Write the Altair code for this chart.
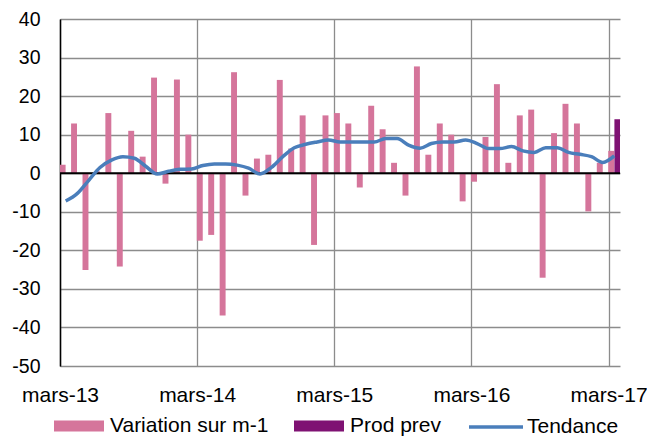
import altair as alt
import pandas as pd

# ---- data ----
month_index = list(range(49))  # 0 = mars-13 ... 48 = mars-17
variation = [2.2, 12.9, -25.1, 0.5, 15.6, -24.2, 11.0, 4.3, 24.8, -2.7, 24.3, 10.0,
             -17.5, -16.0, -36.9, 26.2, -5.8, 3.8, 4.8, 24.2, 6.4, 15.0, -18.6, 15.0,
             15.6, 12.9, -3.7, 17.5, 11.4, 2.7, -5.8, 27.7, 4.8, 12.9, 10.0, -7.3,
             -2.2, 9.4, 23.1, 2.7, 15.0, 16.5, -27.1, 10.4, 18.0, 12.9, -9.9, 2.7,
             5.8]
tendance = [-7.2, -5.3, -1.9, 1.5, 3.4, 4.3, 3.9, 1.8, -0.2, 0.5, 1.0, 1.1,
            2.0, 2.4, 2.4, 2.1, 1.3, -0.2, 1.5, 4.3, 6.6, 7.5, 8.1, 8.6,
            8.1, 8.1, 8.1, 8.1, 9.0, 9.0, 7.3, 6.5, 7.7, 8.1, 8.1, 8.6,
            7.7, 6.4, 6.4, 6.9, 5.8, 5.4, 6.6, 6.6, 5.4, 4.9, 4.3, 2.8, 4.5]
prod_prev_index = [48]
prod_prev = [14.0]
tick_positions = [0, 12, 24, 36, 48]
tick_labels = ["mars-13", "mars-14", "mars-15", "mars-16", "mars-17"]
series_names = ["Variation sur m-1", "Prod prev", "Tendance"]
colors = ["#D5759B", "#7F1273", "#4A7EBB"]
y_ticks = list(range(-50, 41, 10))

FONT = "Liberation Sans"
FS = 19.5
LFS = 21

bars_df = pd.DataFrame({
    "mois": month_index + prod_prev_index,
    "valeur": variation + prod_prev,
    "serie": [series_names[0]] * len(variation) + [series_names[1]] * len(prod_prev),
})
line_df = pd.DataFrame({"mois": month_index, "valeur": tendance, "serie": series_names[2]})
zero_df = pd.DataFrame({"valeur": [0]})

label_expr = "''"
for p, l in reversed(list(zip(tick_positions, tick_labels))):
    label_expr = f"datum.value == {p} ? '{l}' : ({label_expr})"

x_scale = alt.Scale(domain=[0, 49], nice=False, zero=False)
y_scale = alt.Scale(domain=[-50, 40], nice=False)

x_axis = alt.Axis(values=tick_positions, labelExpr=label_expr, grid=True, domain=False,
                  ticks=False, labelPadding=18, title=None, labelFlush=False,
                  labelOverlap=False, labelFontSize=21)
y_axis = alt.Axis(values=y_ticks, grid=True, ticks=False, domain=True, labelPadding=20,
                  title=None, labelExpr="'' + datum.value", labelOverlap=False)

bars = alt.Chart(bars_df).transform_calculate(
    centre="datum.mois + 0.5 + (datum.serie == 'Prod prev' ? 0.27 : -0.27)"
).transform_calculate(
    x0="datum.centre - 0.26", x1="datum.centre + 0.26"
).mark_bar(clip=True).encode(
    x=alt.X("x0:Q", scale=x_scale, axis=x_axis),
    x2="x1:Q",
    y=alt.Y("valeur:Q", scale=y_scale, axis=y_axis),
    y2=alt.datum(0),
    color=alt.Color("serie:N",
                    scale=alt.Scale(domain=series_names[:2], range=colors[:2]),
                    legend=alt.Legend(orient="none", legendX=-6, legendY=382,
                                      direction="horizontal", title=None,
                                      symbolType="M-1,-0.22H1V0.22H-1Z", symbolSize=2500,
                                      symbolStrokeWidth=0, symbolOpacity=1,
                                      labelFont=FONT, labelFontSize=LFS, labelColor="black",
                                      labelOffset=6, columnPadding=25, padding=0)),
)

zero = alt.Chart(zero_df).mark_rule(color="black", strokeWidth=2).encode(
    y=alt.Y("valeur:Q", scale=y_scale, axis=y_axis))

line = alt.Chart(line_df).transform_calculate(xc="datum.mois + 0.5").mark_line(
    strokeWidth=3.5, interpolate="monotone", clip=True
).encode(
    x=alt.X("xc:Q", scale=x_scale, axis=x_axis),
    y=alt.Y("valeur:Q", scale=y_scale, axis=y_axis),
    stroke=alt.Stroke("serie:N",
                      scale=alt.Scale(domain=series_names[2:], range=colors[2:]),
                      legend=alt.Legend(orient="none", legendX=407, legendY=379, title=None,
                                        symbolType="stroke", symbolSize=2916,
                                        symbolStrokeWidth=3.5, labelFont=FONT,
                                        labelFontSize=LFS, labelColor="black",
                                        labelOffset=2, padding=0)),
)

chart = alt.layer(bars, zero, line).resolve_scale(color="independent").properties(
    width=560, height=347,
    autosize=alt.AutoSizeParams(type="none"),
    padding={"left": 52, "top": 11, "right": 27, "bottom": 71},
).configure_axis(
    labelFont=FONT, labelFontSize=FS, labelColor="black",
    gridColor="#8C8C8C", gridWidth=1.3, gridOpacity=1,
    domainColor="black", domainWidth=1.5,
).configure_view(strokeOpacity=0)

chart.save("out.html", embed_options={"renderer": "svg", "actions": False})
